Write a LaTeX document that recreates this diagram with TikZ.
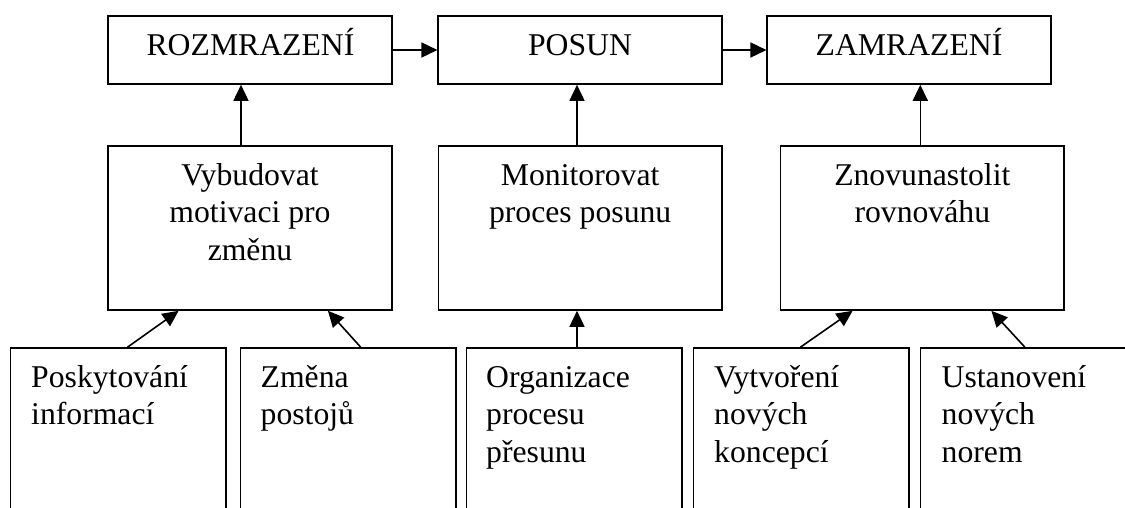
\documentclass[tikz,border=0pt]{standalone}
\usepackage{fontspec}
\setmainfont{Liberation Serif}
\usetikzlibrary{arrows.meta,positioning}
\newcommand{\fl}{\rule{0pt}{25pt}}
\begin{document}
\begin{tikzpicture}[x=1pt,y=-1pt,
  box/.style={draw, line width=1.6pt, rectangle, inner sep=0pt},
  topbox/.style={box, minimum width=283.5pt, minimum height=68pt},
  midbox/.style={box, minimum width=283.5pt, minimum height=164pt},
  botbox/.style={box, minimum width=215.5pt, minimum height=212pt},
  txt/.style={inner sep=0pt, font=\fontsize{31.7}{37.5}\selectfont},
  ctxt/.style={txt, align=center, anchor=north},
  ltxt/.style={txt, align=left, anchor=north west},
  arr/.style={line width=1.6pt, -{Triangle[length=16pt,width=15pt]}}]
\useasboundingbox (0,0) rectangle (1125,507);
\clip (0,0) rectangle (1125,507);
% top row
\node[topbox] (t1) at (250,50) {};
\node[topbox] (t2) at (580,50) {};
\node[topbox] (t3) at (909,50) {};
\node[txt, anchor=base] (t1l) at (250.5,55.5) {ROZMRAZENÍ};
\node[txt, anchor=base] (t2l) at (580,55.5) {POSUN};
\node[txt, anchor=base] (t3l) at (909,55.5) {ZAMRAZENÍ};
% middle row
\node[midbox] (m1) at (250,228) {};
\node[midbox] (m2) at (580.2,228) {};
\node[midbox] (m3) at (922.3,228) {};
\node[ctxt] (m1l) at (250,160) {\fl Vybudovat\\motivaci pro\\změnu};
\node[ctxt] (m2l) at (580.2,160) {\fl Monitorovat\\proces posunu};
\node[ctxt] (m3l) at (922.3,160) {\fl Znovunastolit\\rovnováhu};
% bottom row
\node[botbox] (b1) at (118.4,454) {};
\node[botbox] (b2) at (348.4,454) {};
\node[botbox] (b3) at (574.1,454) {};
\node[botbox] (b4) at (801.3,454) {};
\node[botbox] (b5) at (1028.2,454) {};
\node[ltxt] (b1l) at (31,362) {\fl Poskytování\\informací};
\node[ltxt] (b2l) at (260.5,362) {\fl Změna\\postojů};
\node[ltxt] (b3l) at (486,362) {\fl Organizace\\procesu\\přesunu};
\node[ltxt] (b4l) at (714,362) {\fl Vytvoření\\nových\\koncepcí};
\node[ltxt] (b5l) at (941.5,362) {\fl Ustanovení\\nových\\norem};
% arrows
\draw[arr] (t1) -- (t2);
\draw[arr] (t2) -- (t3);
\draw[arr] ([xshift=-9pt]m1.north) -- ([xshift=-9pt]m1.north |- t1.south);
\draw[arr] ([xshift=-3.2pt]m2.north) -- ([xshift=-3.2pt]m2.north |- t2.south);
\draw[arr] ([xshift=-2pt]m3.north) -- ([xshift=-2pt]m3.north |- t3.south);
\draw[arr] ([xshift=9.1pt]b1.north) -- ([xshift=-71.4pt]m1.south);
\draw[arr] ([xshift=12.3pt]b2.north) -- ([xshift=77.9pt]m1.south);
\draw[arr] ([xshift=2.9pt]b3.north) -- ([xshift=-3.2pt]m2.south);
\draw[arr] ([xshift=-0.9pt]b4.north) -- ([xshift=-69.7pt]m3.south);
\draw[arr] ([xshift=-3.3pt]b5.north) -- ([xshift=69.1pt]m3.south);
\end{tikzpicture}
\end{document}
